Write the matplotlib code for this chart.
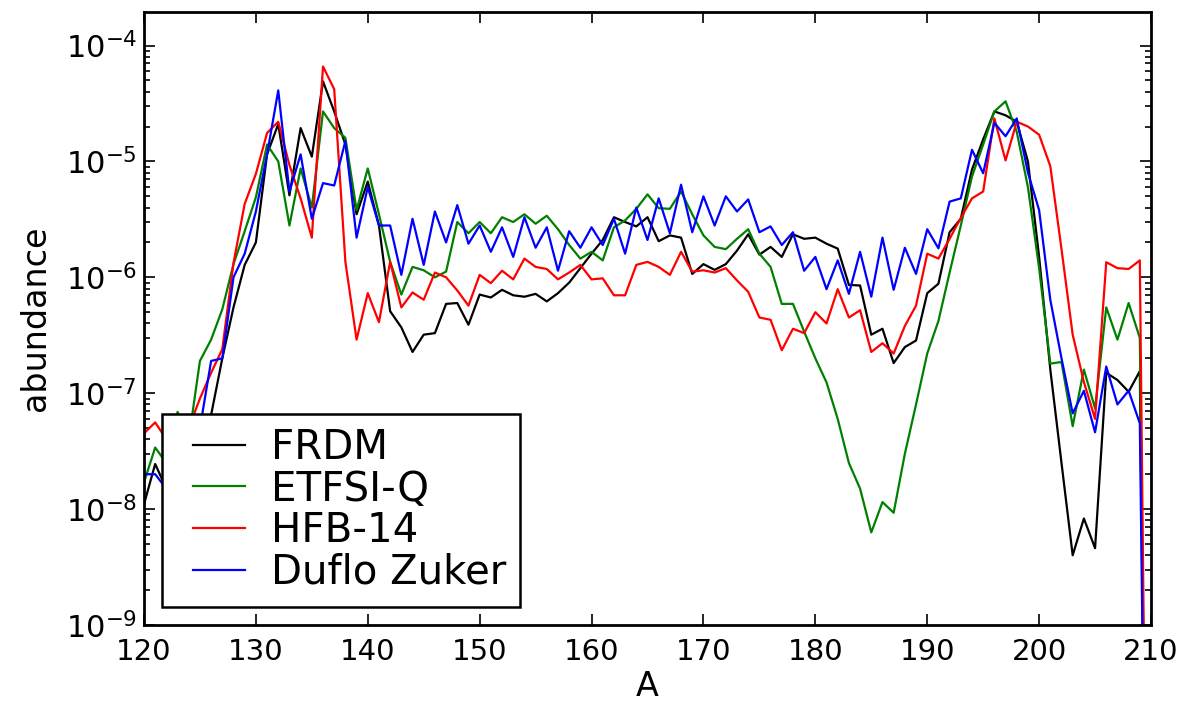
import numpy as np
import matplotlib
matplotlib.use("Agg")
import matplotlib.pyplot as plt
from matplotlib.lines import Line2D
from matplotlib.legend_handler import HandlerLine2D

A = list(range(120, 211))

frdm = [1.1e-8, 2.45e-8, 1.5e-8, 2.0e-8, 3.0e-8, 4.0e-8, 6.5e-8, 2.0e-7, 5.5e-7, 1.28e-6,
        2.0e-6, 1.15e-5, 2.1e-5, 5.1e-6, 1.94e-5, 1.1e-5, 4.9e-5, 2.7e-5, 1.4e-5, 3.5e-6,
        6.7e-6, 2.8e-6, 5.1e-7, 3.7e-7, 2.27e-7, 3.2e-7, 3.3e-7, 5.9e-7, 6.0e-7, 3.9e-7,
        7.1e-7, 6.7e-7, 7.8e-7, 7.0e-7, 6.8e-7, 7.2e-7, 6.2e-7, 7.3e-7, 9.0e-7, 1.2e-6,
        1.6e-6, 2.1e-6, 3.3e-6, 3.0e-6, 2.75e-6, 3.3e-6, 2.05e-6, 2.3e-6, 2.2e-6, 1.07e-6,
        1.3e-6, 1.16e-6, 1.3e-6, 1.7e-6, 2.35e-6, 1.57e-6, 1.83e-6, 1.5e-6, 2.35e-6, 2.15e-6,
        2.2e-6, 1.95e-6, 1.77e-6, 8.6e-7, 8.5e-7, 3.2e-7, 3.6e-7, 1.82e-7, 2.5e-7, 2.85e-7,
        7.3e-7, 8.8e-7, 2.45e-6, 3.2e-6, 8.5e-6, 1.55e-5, 2.7e-5, 2.5e-5, 2.2e-5, 1.0e-5,
        1.5e-6, 1.6e-7, 2.5e-8, 4.0e-9, 8.3e-9, 4.6e-9, 1.5e-7, 1.3e-7, 1.03e-7, 1.55e-7,
        1e-15]

etfsi = [1.7e-8, 3.4e-8, 2.5e-8, 6.9e-8, 4.0e-8, 1.9e-7, 2.9e-7, 5.3e-7, 1.3e-6, 2.5e-6,
         4.9e-6, 1.4e-5, 1.0e-5, 2.8e-6, 8.7e-6, 4.0e-6, 2.7e-5, 1.94e-5, 1.6e-5, 3.8e-6,
         8.7e-6, 3.5e-6, 1.36e-6, 7.1e-7, 1.23e-6, 1.15e-6, 1.0e-6, 1.12e-6, 3.0e-6, 2.4e-6,
         3.0e-6, 2.4e-6, 3.3e-6, 3.0e-6, 3.5e-6, 2.9e-6, 3.4e-6, 2.6e-6, 1.9e-6, 1.45e-6,
         1.66e-6, 1.4e-6, 2.7e-6, 3.1e-6, 3.9e-6, 5.2e-6, 3.95e-6, 3.9e-6, 5.5e-6, 3.5e-6,
         2.3e-6, 1.83e-6, 1.75e-6, 2.15e-6, 2.6e-6, 1.6e-6, 1.23e-6, 5.9e-7, 5.9e-7, 3.4e-7,
         2.0e-7, 1.24e-7, 6.0e-8, 2.5e-8, 1.5e-8, 6.3e-9, 1.15e-8, 9.3e-9, 3.0e-8, 8.0e-8,
         2.2e-7, 4.2e-7, 1.1e-6, 2.8e-6, 7.4e-6, 1.4e-5, 2.7e-5, 3.3e-5, 1.8e-5, 6.0e-6,
         1.2e-6, 1.8e-7, 1.86e-7, 5.2e-8, 1.6e-7, 7.4e-8, 5.5e-7, 2.9e-7, 6.0e-7, 3.0e-7,
         1e-15]

hfb14 = [4.5e-8, 5.6e-8, 4.0e-8, 3.5e-8, 5.0e-8, 9.0e-8, 1.5e-7, 2.4e-7, 1.33e-6, 4.3e-6,
         7.8e-6, 1.76e-5, 2.2e-5, 9.3e-6, 4.8e-6, 2.2e-6, 6.6e-5, 4.2e-5, 1.36e-6, 2.9e-7,
         7.3e-7, 4.1e-7, 1.36e-6, 5.5e-7, 7.4e-7, 6.4e-7, 1.1e-6, 1.0e-6, 7.7e-7, 5.7e-7,
         1.05e-6, 8.9e-7, 1.14e-6, 9.6e-7, 1.45e-6, 1.23e-6, 1.18e-6, 9.6e-7, 1.1e-6, 1.28e-6,
         9.6e-7, 9.8e-7, 7.0e-7, 7.0e-7, 1.28e-6, 1.36e-6, 1.23e-6, 1.05e-6, 1.66e-6, 1.12e-6,
         1.15e-6, 1.1e-6, 1.2e-6, 9.4e-7, 7.5e-7, 4.5e-7, 4.3e-7, 2.35e-7, 3.6e-7, 3.3e-7,
         5.0e-7, 4.0e-7, 7.9e-7, 4.5e-7, 5.2e-7, 2.27e-7, 2.7e-7, 2.2e-7, 3.8e-7, 5.7e-7,
         1.6e-6, 1.45e-6, 2.15e-6, 3.25e-6, 4.8e-6, 5.5e-6, 2.35e-5, 1.02e-5, 2.2e-5, 2.0e-5,
         1.7e-5, 9.1e-6, 1.75e-6, 3.2e-7, 1.25e-7, 6.0e-8, 1.35e-6, 1.2e-6, 1.18e-6, 1.4e-6,
         1e-15]

duflo = [2.0e-8, 2.0e-8, 1.5e-8, 2.5e-8, 3.5e-8, 5.0e-8, 1.9e-7, 2.0e-7, 1.0e-6, 1.6e-6,
         3.7e-6, 1.15e-5, 4.1e-5, 5.5e-6, 1.15e-5, 3.2e-6, 6.5e-6, 6.2e-6, 1.5e-5, 2.2e-6,
         6.0e-6, 2.8e-6, 2.8e-6, 1.05e-6, 3.2e-6, 1.28e-6, 3.7e-6, 2.0e-6, 4.2e-6, 1.95e-6,
         2.8e-6, 1.66e-6, 2.7e-6, 1.5e-6, 3.3e-6, 1.8e-6, 2.7e-6, 1.14e-6, 2.5e-6, 1.8e-6,
         2.7e-6, 1.9e-6, 3.2e-6, 1.6e-6, 4.0e-6, 2.1e-6, 4.8e-6, 2.4e-6, 6.3e-6, 2.45e-6,
         5.0e-6, 2.8e-6, 5.0e-6, 3.7e-6, 4.7e-6, 2.45e-6, 2.75e-6, 1.9e-6, 2.45e-6, 1.14e-6,
         1.5e-6, 7.9e-7, 1.4e-6, 7.2e-7, 1.66e-6, 6.8e-7, 2.2e-6, 7.8e-7, 1.8e-6, 1.07e-6,
         2.6e-6, 1.78e-6, 4.5e-6, 4.8e-6, 1.26e-5, 7.9e-6, 2.15e-5, 1.65e-5, 2.35e-5, 8.0e-6,
         3.8e-6, 6.4e-7, 2.0e-7, 6.7e-8, 1.05e-7, 4.6e-8, 1.7e-7, 8.0e-8, 1.05e-7, 5.5e-8,
         1e-15]

labels = ["FRDM", "ETFSI-Q", "HFB-14", "Duflo Zuker"]
colors = ["#000000", "#008000", "#ff0000", "#0000ff"]
xticks = [120, 130, 140, 150, 160, 170, 180, 190, 200, 210]

plt.rcParams['font.family'] = ['DejaVu Sans']
plt.rcParams['mathtext.fontset'] = 'dejavusans'
plt.rcParams['axes.unicode_minus'] = False

fig = plt.figure(figsize=(11.86, 7.01), dpi=100)
ax = fig.add_axes([0.1214, 0.1084, 0.8491, 0.8746])

for series, lab, col in zip([frdm, etfsi, hfb14, duflo], labels, colors):
    ax.plot(A, series, color=col, lw=1.6, label=lab)

ax.set_yscale('log')
ax.set_xlim(120, 210)
ax.set_ylim(1e-9, 1.95e-4)
ax.set_xticks(xticks)
ax.set_xticklabels([str(t) for t in xticks])

ax.tick_params(which='both', direction='in', top=True, right=True, width=1.2)
ax.tick_params(axis='x', labelsize=21, pad=9)
ax.tick_params(axis='y', labelsize=22, pad=5)
ax.tick_params(which='major', length=8)
ax.tick_params(which='minor', length=4)
ax.tick_params(axis='x', which='minor', bottom=False, top=False)
for sp in ax.spines.values():
    sp.set_linewidth(2.0)

ax.set_xlabel('A', fontsize=24, labelpad=3)
ax.set_ylabel('abundance', fontsize=24, labelpad=10)

leg = ax.legend(loc='lower left', fontsize=29, frameon=True, fancybox=False,
                handlelength=1.7, handletextpad=0.65, labelspacing=0.04,
                borderpad=0.35, borderaxespad=0.45,
                handler_map={Line2D: HandlerLine2D(xpad=0.42)})
leg.get_frame().set_edgecolor('black')
leg.get_frame().set_linewidth(1.8)
leg.get_frame().set_alpha(1.0)

fig.savefig('out.png', dpi=100)
